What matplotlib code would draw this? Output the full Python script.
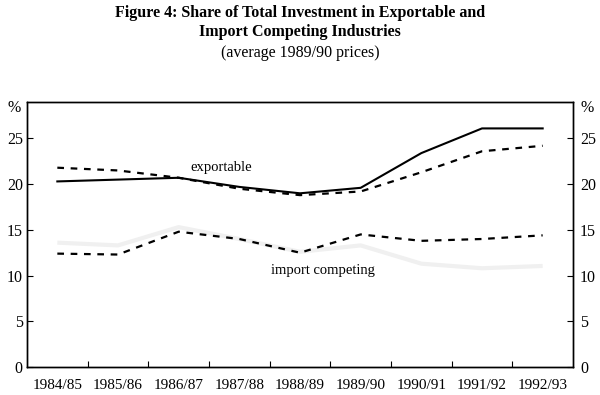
import matplotlib.pyplot as plt
import numpy as np

plt.rcParams['font.family'] = ['Liberation Serif', 'DejaVu Serif']

years = ['1984/85', '1985/86', '1986/87', '1987/88', '1988/89',
         '1989/90', '1990/91', '1991/92', '1992/93']
exp_solid = [20.3, 20.5, 20.7, 19.7, 19.0, 19.6, 23.4, 26.1, 26.1]
exp_dash = [21.8, 21.5, 20.7, 19.5, 18.8, 19.2, 21.3, 23.6, 24.2]
imp_dash = [12.4, 12.3, 14.8, 14.0, 12.5, 14.5, 13.8, 14.0, 14.4]
imp_grey = [13.6, 13.3, 15.3, 14.0, 12.6, 13.3, 11.3, 10.8, 11.05]
yticks = [0, 5, 10, 15, 20, 25]

x = np.arange(len(years))

fig = plt.figure(figsize=(6, 3.95), dpi=100)
ax = fig.add_axes([0.045, 0.071, 0.91, 0.671])

ax.plot(x, imp_grey, color='#f0f0f0', lw=3.0, solid_capstyle='butt')
ax.plot(x, imp_dash, color='black', lw=1.6, dashes=(3, 3))
ax.plot(x, exp_dash, color='black', lw=1.6, dashes=(3, 3))
ax.plot(x, exp_solid, color='black', lw=1.5)

ax.text(2.7, 21.8, 'exportable', fontsize=10.5, ha='center', va='center')
ax.text(4.38, 10.6, 'import competing', fontsize=10.5, ha='center', va='center')

ax.set_xlim(-0.5, 8.5)
ax.set_ylim(0, 29)

# ticks between the years, labels under the years
ax.set_xticks(x[:-1] + 0.5)
ax.set_xticklabels([])
ax.set_xticks(x, minor=True)
ax.set_xticklabels(years, minor=True, fontsize=11)
ax.tick_params(axis='x', which='major', direction='in', length=4, width=0.8)
ax.tick_params(axis='x', which='minor', length=0, pad=9)

ax.set_yticks(yticks)
ax.tick_params(axis='y', direction='in', length=4, width=0.8, labelsize=11.5, pad=3)

ax2 = ax.twinx()
ax2.set_ylim(0, 29)
ax2.set_yticks(yticks)
ax2.tick_params(axis='y', direction='in', length=4, width=0.8, labelsize=11.5, pad=5)

fig.text(0.012, 0.726, '%', fontsize=11.5, ha='left', va='center')
fig.text(0.968, 0.726, '%', fontsize=11.5, ha='left', va='center')

for a in (ax, ax2):
    for s in a.spines.values():
        s.set_linewidth(1.0)

fig.text(0.5, 0.968, 'Figure 4: Share of Total Investment in Exportable and',
         ha='center', va='center', fontsize=11.5, fontweight='bold')
fig.text(0.5, 0.918, 'Import Competing Industries',
         ha='center', va='center', fontsize=11.5, fontweight='bold')
fig.text(0.5, 0.866, '(average 1989/90 prices)',
         ha='center', va='center', fontsize=11.5)

fig.savefig('out.png', dpi=100)
